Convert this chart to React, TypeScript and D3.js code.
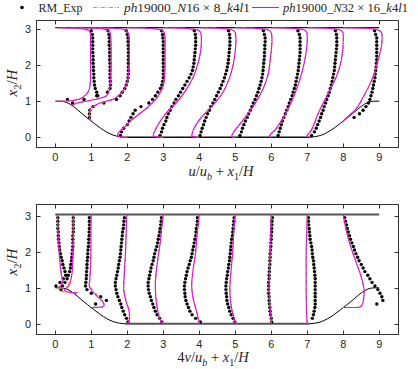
import { useEffect, useRef } from "react";
import * as d3 from "d3";

const _ = null;

// measuring stations x1/H
const stations = [0.05, 0.5, 1, 2, 3, 4, 5, 6, 7, 8];
const xTicks = [0, 1, 2, 3, 4, 5, 6, 7, 8, 9];
const yTicks = [0, 1, 2, 3];
const topWall = 3.036;

// hill contour (left hill, the right one is its mirror)
const hillX = [0, 0.16, 0.32, 0.5, 0.714, 0.893, 1.071, 1.25, 1.43, 1.607, 1.79, 1.93];
const hillY = [1, 0.998, 0.964, 0.857, 0.679, 0.532, 0.393, 0.258, 0.1425, 0.06, 0.015, 0];

// experiment levels x2/H
const expY = [0.05, 0.15, 0.25, 0.35, 0.45, 0.55, 0.65, 0.75, 0.85, 0.95, 1.05, 1.15, 1.25, 1.35, 1.45,
  1.55, 1.65, 1.75, 1.85, 1.95, 2.05, 2.15, 2.25, 2.35, 2.45, 2.55, 2.65, 2.75, 2.85, 2.95];

// u/ub, RM_Exp
const uExp = [
  [_, _, _, _, _, _, _, _, _, _, 0.29, 1.13, 1.1, 1.06, 1.04, 1.03, 1.02, 1.02, 1.01, 1.01, 1.0, 1.0, 1.0, 0.99, 0.99, 0.99, 0.99, 0.99, 0.98, 0.95],
  [_, _, _, _, _, _, _, _, _, -0.02, 0.3, 0.65, 0.95, 1.02, 1.03, 1.03, 1.02, 1.02, 1.02, 1.02, 1.02, 1.01, 1.01, 1.01, 1.01, 1.0, 1.0, 1.0, 0.99, 0.96],
  [_, _, _, _, _, -0.05, -0.05, -0.04, 0.05, 0.35, 0.7, 0.8, 0.86, 0.93, 0.97, 1.0, 1.02, 1.03, 1.03, 1.03, 1.03, 1.03, 1.03, 1.03, 1.03, 1.03, 1.02, 1.02, 1.0, 0.97],
  [-0.19, -0.16, -0.1, 0.0, 0.05, 0.1, 0.16, 0.22, 0.38, 0.6, 0.7, 0.78, 0.85, 0.92, 0.96, 0.98, 1.0, 1.0, 1.0, 1.0, 1.0, 1.0, 1.0, 1.0, 1.0, 1.0, 1.0, 0.99, 0.98, 0.95],
  [-0.09, -0.05, -0.02, 0.02, 0.07, 0.1, 0.14, 0.19, 0.24, 0.3, 0.35, 0.42, 0.48, 0.54, 0.6, 0.66, 0.72, 0.77, 0.81, 0.83, 0.85, 0.86, 0.87, 0.88, 0.89, 0.9, 0.9, 0.9, 0.89, 0.86],
  [0.02, 0.05, 0.08, 0.12, 0.15, 0.19, 0.23, 0.28, 0.32, 0.38, 0.43, 0.48, 0.53, 0.58, 0.62, 0.66, 0.7, 0.73, 0.76, 0.78, 0.8, 0.81, 0.82, 0.83, 0.84, 0.85, 0.85, 0.85, 0.84, 0.81],
  [0.13, 0.17, 0.2, 0.24, 0.28, 0.33, 0.37, 0.42, 0.46, 0.5, 0.55, 0.59, 0.63, 0.66, 0.69, 0.72, 0.74, 0.76, 0.77, 0.78, 0.79, 0.8, 0.81, 0.81, 0.82, 0.82, 0.83, 0.83, 0.81, 0.78],
  [0.19, 0.22, 0.25, 0.28, 0.31, 0.35, 0.39, 0.43, 0.47, 0.5, 0.54, 0.58, 0.61, 0.64, 0.67, 0.69, 0.71, 0.73, 0.75, 0.76, 0.77, 0.78, 0.79, 0.8, 0.8, 0.8, 0.8, 0.8, 0.78, 0.74],
  [0.12, 0.2, 0.25, 0.29, 0.33, 0.37, 0.4, 0.44, 0.47, 0.51, 0.54, 0.58, 0.61, 0.64, 0.67, 0.69, 0.71, 0.73, 0.75, 0.76, 0.77, 0.78, 0.79, 0.8, 0.81, 0.82, 0.82, 0.82, 0.81, 0.78],
  [_, _, _, _, _, 0.3, 0.45, 0.55, 0.63, 0.7, 0.74, 0.77, 0.8, 0.82, 0.84, 0.86, 0.88, 0.89, 0.9, 0.91, 0.92, 0.93, 0.93, 0.93, 0.93, 0.93, 0.93, 0.93, 0.9, 0.87],
];

// v/ub, RM_Exp
const vExp = [
  [_, _, _, _, _, _, _, _, _, _, -0.008, 0.02, 0.043, 0.06, 0.055, 0.048, 0.04, 0.035, 0.028, 0.023, 0.018, 0.015, 0.013, 0.01, 0.008, 0.008, 0.005, 0.005, 0.005, 0.005],
  [_, _, _, _, _, _, _, _, _, -0.085, -0.075, -0.058, -0.043, -0.035, -0.025, -0.02, -0.018, -0.013, -0.01, -0.008, -0.005, -0.003, -0.003, -0.003, -0.003, 0, 0, 0, 0, 0],
  [_, _, _, _, _, 0.03, 0.105, 0.065, 0, -0.03, -0.04, -0.038, -0.035, -0.033, -0.033, -0.03, -0.03, -0.028, -0.025, -0.025, -0.023, -0.02, -0.018, -0.018, -0.015, -0.015, -0.013, -0.013, -0.013, -0.013],
  [0.005, -0.005, -0.018, -0.028, -0.038, -0.045, -0.055, -0.065, -0.073, -0.078, -0.083, -0.083, -0.078, -0.073, -0.068, -0.063, -0.06, -0.055, -0.05, -0.048, -0.045, -0.043, -0.04, -0.038, -0.035, -0.033, -0.028, -0.025, -0.023, -0.02],
  [-0.01, -0.025, -0.043, -0.055, -0.065, -0.073, -0.083, -0.09, -0.098, -0.103, -0.105, -0.105, -0.1, -0.095, -0.09, -0.085, -0.078, -0.07, -0.065, -0.06, -0.053, -0.045, -0.04, -0.035, -0.03, -0.025, -0.023, -0.018, -0.015, -0.013],
  [0.008, -0.025, -0.05, -0.065, -0.075, -0.085, -0.093, -0.098, -0.1, -0.103, -0.103, -0.1, -0.095, -0.09, -0.085, -0.078, -0.07, -0.063, -0.055, -0.05, -0.045, -0.04, -0.035, -0.03, -0.025, -0.023, -0.02, -0.015, -0.013, -0.013],
  [-0.003, -0.015, -0.028, -0.038, -0.045, -0.053, -0.058, -0.06, -0.063, -0.065, -0.065, -0.063, -0.06, -0.055, -0.053, -0.048, -0.045, -0.04, -0.038, -0.035, -0.033, -0.03, -0.028, -0.025, -0.02, -0.018, -0.015, -0.013, -0.01, -0.008],
  [0.003, 0, -0.005, -0.008, -0.01, -0.013, -0.015, -0.015, -0.018, -0.018, -0.018, -0.018, -0.015, -0.015, -0.013, -0.013, -0.01, -0.01, -0.008, -0.008, -0.005, -0.003, -0.003, 0, 0, 0.003, 0.003, 0.005, 0.005, 0.008],
  [_, 0.035, 0.043, 0.048, 0.053, 0.055, 0.055, 0.055, 0.055, 0.055, 0.055, 0.055, 0.055, 0.053, 0.05, 0.048, 0.045, 0.043, 0.038, 0.035, 0.033, 0.03, 0.025, 0.02, 0.018, 0.015, 0.013, 0.01, 0.008, 0.008],
  [_, _, _, _, _, 0.233, 0.275, 0.268, 0.255, 0.24, 0.22, 0.2, 0.185, 0.17, 0.15, 0.138, 0.125, 0.11, 0.1, 0.088, 0.078, 0.07, 0.06, 0.05, 0.043, 0.035, 0.028, 0.023, 0.015, 0.01],
];

// simulation profiles, u/ub
const uLineY = [
  [1.0, 1.005, 1.05, 1.1, 1.15, 1.2, 1.28, 1.4, 1.7, 2.1, 2.5, 2.8, 2.89, 2.95, 2.99, 3.02, 3.036],
  [0.857, 0.88, 0.93, 0.98, 1.02, 1.06, 1.1, 1.15, 1.25, 1.4, 1.7, 2.1, 2.5, 2.8, 2.9, 2.96, 3.0, 3.02, 3.036],
  [0.45, 0.5, 0.6, 0.77, 0.86, 0.95, 1.05, 1.15, 1.23, 1.37, 1.55, 1.8, 2.2, 2.6, 2.8, 2.9, 2.96, 3.0, 3.02, 3.036],
  [0, 0.01, 0.04, 0.1, 0.21, 0.3, 0.44, 0.63, 0.81, 1.0, 1.09, 1.25, 1.37, 1.6, 2.0, 2.4, 2.7, 2.85, 2.93, 2.98, 3.01, 3.03, 3.036],
  [0, 0.01, 0.03, 0.1, 0.25, 0.5, 0.75, 1.0, 1.3, 1.6, 2.0, 2.4, 2.7, 2.85, 2.93, 2.98, 3.01, 3.03, 3.036],
  [0, 0.01, 0.03, 0.1, 0.3, 0.57, 0.9, 1.27, 1.68, 2.05, 2.5, 2.7, 2.85, 2.93, 2.98, 3.01, 3.03, 3.036],
  [0, 0.01, 0.03, 0.1, 0.48, 0.94, 1.36, 1.78, 2.24, 2.5, 2.7, 2.85, 2.93, 2.98, 3.01, 3.03, 3.036],
  [0, 0.01, 0.03, 0.2, 0.7, 1.22, 1.87, 2.3, 2.7, 2.85, 2.93, 2.98, 3.01, 3.03, 3.036],
  [0, 0.02, 0.15, 0.66, 1.22, 1.68, 2.15, 2.7, 2.85, 2.93, 2.98, 3.01, 3.03, 3.036],
  [0.45, 0.47, 0.55, 0.76, 1.13, 1.59, 2.15, 2.6, 2.82, 2.92, 2.97, 3.0, 3.02, 3.036],
];
const uN32 = [
  [0, 0.31, 0.6, 0.7, 0.76, 0.82, 0.87, 0.91, 0.93, 0.93, 0.93, 0.93, 0.92, 0.89, 0.8, 0.55, 0],
  [0, -0.02, 0.05, 0.25, 0.45, 0.65, 0.82, 0.92, 0.98, 1.02, 1.04, 1.05, 1.05, 1.04, 1.02, 0.96, 0.85, 0.6, 0],
  [0, -0.04, -0.05, -0.04, 0.06, 0.24, 0.6, 0.75, 0.84, 0.94, 1.0, 1.04, 1.06, 1.06, 1.05, 1.02, 0.96, 0.85, 0.6, 0],
  [0, -0.2, -0.27, -0.26, -0.16, -0.05, 0.07, 0.31, 0.54, 0.74, 0.82, 0.92, 0.98, 1.03, 1.05, 1.05, 1.05, 1.04, 1.01, 0.92, 0.7, 0.35, 0],
  [0, -0.2, -0.28, -0.27, -0.2, -0.05, 0.15, 0.4, 0.62, 0.8, 0.95, 1.04, 1.06, 1.05, 1.02, 0.93, 0.71, 0.35, 0],
  [0, -0.15, -0.21, -0.2, -0.12, 0.07, 0.39, 0.67, 0.85, 0.95, 1.01, 1.02, 1.01, 0.98, 0.9, 0.68, 0.34, 0],
  [0, -0.07, -0.1, -0.07, 0.22, 0.55, 0.78, 0.92, 0.98, 1.01, 1.02, 1.01, 0.98, 0.9, 0.68, 0.34, 0],
  [0, -0.04, -0.05, 0.1, 0.42, 0.66, 0.87, 0.96, 1.0, 1.0, 0.97, 0.89, 0.67, 0.33, 0],
  [0, -0.02, 0.08, 0.3, 0.58, 0.81, 0.95, 1.0, 1.0, 0.97, 0.89, 0.67, 0.33, 0],
  [0, 0.02, 0.1, 0.33, 0.56, 0.79, 0.97, 1.07, 1.08, 1.05, 0.97, 0.85, 0.6, 0],
];
const uN16 = [
  [0, 0.3, 0.62, 0.73, 0.79, 0.84, 0.88, 0.91, 0.93, 0.93, 0.93, 0.93, 0.92, 0.89, 0.8, 0.55, 0],
  [0, -0.01, 0.08, 0.3, 0.5, 0.68, 0.83, 0.92, 0.98, 1.02, 1.04, 1.05, 1.05, 1.04, 1.02, 0.96, 0.85, 0.6, 0],
  [0, -0.03, -0.04, -0.02, 0.09, 0.28, 0.6, 0.75, 0.84, 0.94, 1.0, 1.04, 1.06, 1.06, 1.05, 1.02, 0.96, 0.85, 0.6, 0],
  [0, -0.19, -0.26, -0.25, -0.15, -0.04, 0.09, 0.33, 0.55, 0.74, 0.82, 0.92, 0.98, 1.03, 1.05, 1.05, 1.05, 1.04, 1.01, 0.92, 0.7, 0.35, 0],
  [0, -0.19, -0.27, -0.26, -0.19, -0.04, 0.16, 0.41, 0.63, 0.8, 0.95, 1.04, 1.06, 1.05, 1.02, 0.93, 0.71, 0.35, 0],
  [0, -0.14, -0.2, -0.19, -0.11, 0.08, 0.4, 0.67, 0.85, 0.95, 1.01, 1.02, 1.01, 0.98, 0.9, 0.68, 0.34, 0],
  [0, -0.06, -0.09, -0.06, 0.23, 0.56, 0.78, 0.92, 0.98, 1.01, 1.02, 1.01, 0.98, 0.9, 0.68, 0.34, 0],
  [0, -0.03, -0.04, 0.11, 0.43, 0.66, 0.87, 0.96, 1.0, 1.0, 0.97, 0.89, 0.67, 0.33, 0],
  [0, -0.01, 0.09, 0.31, 0.58, 0.81, 0.95, 1.0, 1.0, 0.97, 0.89, 0.67, 0.33, 0],
  [0, 0.02, 0.11, 0.34, 0.57, 0.8, 0.97, 1.07, 1.08, 1.05, 0.97, 0.85, 0.6, 0],
];

// simulation profiles, v/ub
const vLineY = [
  [1.0, 1.02, 1.06, 1.12, 1.2, 1.3, 1.5, 1.8, 2.2, 2.6, 2.9, 3.036],
  [0.857, 0.858, 0.865, 0.9, 0.93, 1.0, 1.07, 1.2, 1.3, 1.58, 2.0, 2.3, 3.036],
  [0.45, 0.455, 0.47, 0.52, 0.61, 0.75, 0.94, 1.07, 1.26, 1.91, 2.5, 3.036],
  [0, 0.03, 0.15, 0.33, 0.61, 0.98, 1.44, 1.91, 2.5, 2.93, 3.036],
  [0, 0.03, 0.1, 0.25, 0.5, 0.8, 1.1, 1.4, 1.8, 2.3, 2.7, 3.036],
  [0, 0.06, 0.33, 0.7, 1.07, 1.5, 2.0, 2.37, 2.7, 3.036],
  [0, 0.06, 0.52, 0.98, 1.44, 2.0, 2.37, 2.7, 3.036],
  [0, 0.06, 0.52, 0.98, 1.44, 2.37, 2.8, 3.036],
  [0, 0.3, 1.0, 1.9, 2.6, 3.036],
  [0.45, 0.452, 0.46, 0.5, 0.61, 0.89, 1.26, 1.81, 2.3, 2.56, 2.85, 3.036],
];
const vN32 = [
  [0, 0.013, 0.025, 0.035, 0.038, 0.033, 0.025, 0.018, 0.01, 0.005, 0.003, 0],
  [0, 0.03, -0.013, -0.05, -0.063, -0.045, -0.028, -0.018, -0.013, -0.005, -0.003, 0, 0],
  [0, 0.033, 0.08, 0.09, 0.08, 0.045, 0, -0.015, -0.01, -0.003, -0.003, 0],
  [0, 0.008, 0.015, 0.013, -0.008, -0.025, -0.02, -0.013, -0.008, -0.005, 0],
  [0, -0.008, -0.02, -0.033, -0.045, -0.053, -0.055, -0.05, -0.038, -0.02, -0.01, 0],
  [0, -0.003, -0.018, -0.043, -0.053, -0.043, -0.025, -0.018, -0.01, 0],
  [0, -0.003, -0.03, -0.038, -0.03, -0.018, -0.013, -0.008, 0],
  [0, 0, -0.01, -0.015, -0.013, -0.005, -0.003, 0],
  [0, -0.005, -0.008, -0.008, -0.003, 0],
  [0, 0.063, 0.105, 0.125, 0.138, 0.145, 0.128, 0.08, 0.04, 0.023, 0.008, 0],
];
const vN16 = [
  [0, 0.02, 0.03, 0.037, 0.038, 0.033, 0.026, 0.018, 0.01, 0.005, 0.003, 0],
  [0, 0.025, -0.025, -0.08, -0.1, -0.075, -0.04, -0.023, -0.015, -0.005, -0.003, 0, 0],
  [0, 0.03, 0.075, 0.085, 0.078, 0.05, 0.008, -0.013, -0.01, -0.003, -0.003, 0],
  [0, 0.008, 0.018, 0.016, -0.005, -0.024, -0.02, -0.013, -0.008, -0.005, 0],
  [0, -0.008, -0.02, -0.032, -0.043, -0.052, -0.055, -0.05, -0.038, -0.02, -0.01, 0],
  [0, -0.003, -0.016, -0.04, -0.052, -0.043, -0.025, -0.018, -0.01, 0],
  [0, -0.003, -0.028, -0.037, -0.03, -0.018, -0.013, -0.008, 0],
  [0, 0, -0.009, -0.014, -0.012, -0.005, -0.003, 0],
  [0, -0.004, -0.007, -0.007, -0.003, 0],
  [0, 0.07, 0.115, 0.13, 0.14, 0.145, 0.127, 0.08, 0.04, 0.023, 0.008, 0],
];

const MAGENTA = "#e010e0";
const ORANGE = "#f28a1e";
const serif = "'Liberation Serif', 'DejaVu Serif', serif";
const sans = "'Liberation Sans', Arial, sans-serif";

// [text, italic, subscript]
type Seg = [string, boolean, boolean?];

function mathText(sel: any, segs: Seg[], size: number) {
  let sub = false;
  segs.forEach(([t, it, s]) => {
    const ts = sel.append("tspan").text(t)
      .attr("font-style", it ? "italic" : "normal")
      .attr("font-size", s ? size * 0.7 : size);
    if (s && !sub) ts.attr("dy", size * 0.25);
    if (!s && sub) ts.attr("dy", -size * 0.25);
    sub = !!s;
  });
}

function App() {
  const ref = useRef<SVGSVGElement>(null);

  useEffect(() => {
    const svg = d3.select(ref.current);
    svg.selectAll("*").remove();

    const x = d3.scaleLinear([-0.536, 9.54], [36, 398.7]);

    const panels = [
      { y: d3.scaleLinear([-0.27, 3.25], [147, 20]), top: 20, bottom: 147, exp: uExp, lineY: uLineY, n32: uN32, n16: uN16, k: 1,
        wallColor: "#111", wallWidth: 1.3,
        xLabel: [["u", true], ["/", false], ["u", true], ["b", true, true], [" + ", false], ["x", true], ["1", false, true], ["/", false], ["H", true]] as Seg[],
        xLabelY: 176, xLabelX: 221, yLabelY: 83 },
      { y: d3.scaleLinear([-0.285, 3.33], [334, 204]), top: 204, bottom: 334, exp: vExp, lineY: vLineY, n32: vN32, n16: vN16, k: 4,
        wallColor: "#555", wallWidth: 2,
        xLabel: [["4", false], ["v", true], ["/", false], ["u", true], ["b", true, true], [" + ", false], ["x", true], ["1", false, true], ["/", false], ["H", true]] as Seg[],
        xLabelY: 362, xLabelX: 213, yLabelY: 262 },
    ];

    panels.forEach((p) => {
      const y = p.y;
      const g = svg.append("g");

      // walls
      const hill: [number, number][] = hillX.map((hx, i) => [hx, hillY[i]]);
      const hillR: [number, number][] = hillX.map((hx, i) => [9 - hx, hillY[i]] as [number, number]).reverse();
      const hillLine = d3.line<[number, number]>().x((d) => x(d[0])).y((d) => y(d[1])).curve(d3.curveMonotoneX);
      g.append("path").attr("d", hillLine(hill)).attr("fill", "none").attr("stroke", "#000").attr("stroke-width", 1);
      g.append("path").attr("d", hillLine(hillR)).attr("fill", "none").attr("stroke", "#000").attr("stroke-width", 1);
      g.append("line").attr("x1", x(hillX[hillX.length - 1])).attr("x2", x(9 - hillX[hillX.length - 1]))
        .attr("y1", y(0)).attr("y2", y(0)).attr("stroke", p.wallColor).attr("stroke-width", p.wallWidth);
      g.append("line").attr("x1", x(0)).attr("x2", x(9)).attr("y1", y(topWall)).attr("y2", y(topWall))
        .attr("stroke", p.wallColor).attr("stroke-width", p.wallWidth);

      // experiment dots
      stations.forEach((st, i) => {
        const pts = expY.map((yy, j) => [yy, p.exp[i][j]]).filter((d) => d[1] !== null) as [number, number][];
        g.append("g").selectAll("circle").data(pts).join("circle")
          .attr("cx", (d) => x(st + p.k * d[1]))
          .attr("cy", (d) => y(d[0]))
          .attr("r", 1.7)
          .attr("fill", "#000");
      });

      // simulation lines
      const drawSim = (vals: number[][], color: string, width: number, dash: string | null) => {
        stations.forEach((st, i) => {
          const pts: [number, number][] = p.lineY[i].map((yy, j) => [yy, vals[i][j]]);
          const line = d3.line<[number, number]>()
            .x((d) => x(st + p.k * d[1]))
            .y((d) => y(d[0]))
            .curve(d3.curveMonotoneY);
          g.append("path").attr("d", line(pts)).attr("fill", "none")
            .attr("stroke", color).attr("stroke-width", width)
            .attr("stroke-dasharray", dash);
        });
      };
      drawSim(p.n16, ORANGE, 1.1, "4,1.5,1,1.5");
      drawSim(p.n32, MAGENTA, 1.1, null);

      // box and ticks
      const ax = svg.append("g").attr("stroke", "#333").attr("stroke-width", 1);
      ax.append("rect").attr("x", 36.5).attr("y", p.top + 0.5).attr("width", 362).attr("height", p.bottom - p.top)
        .attr("fill", "none");
      xTicks.forEach((t) => {
        const xx = Math.round(x(t)) + 0.5;
        ax.append("line").attr("x1", xx).attr("x2", xx).attr("y1", p.bottom + 0.5).attr("y2", p.bottom - 3.5);
        ax.append("line").attr("x1", xx).attr("x2", xx).attr("y1", p.top + 0.5).attr("y2", p.top + 4.5);
      });
      yTicks.forEach((t) => {
        const yy = Math.round(y(t)) + 0.5;
        ax.append("line").attr("x1", 36.5).attr("x2", 40.5).attr("y1", yy).attr("y2", yy);
        ax.append("line").attr("x1", 398.5).attr("x2", 394.5).attr("y1", yy).attr("y2", yy);
      });

      const lab = svg.append("g").attr("font-family", sans).attr("font-size", 11).attr("fill", "#262626");
      xTicks.forEach((t) => {
        lab.append("text").attr("x", x(t)).attr("y", p.bottom + 14).attr("text-anchor", "middle").text(t);
      });
      yTicks.forEach((t) => {
        lab.append("text").attr("x", 31).attr("y", y(t) + 4).attr("text-anchor", "end").text(t);
      });

      // axis titles
      const xt = svg.append("text").attr("x", p.xLabelX).attr("y", p.xLabelY).attr("text-anchor", "middle")
        .attr("font-family", serif).attr("fill", "#262626");
      mathText(xt, p.xLabel, 14.5);
      const yt = svg.append("text").attr("transform", `translate(17,${p.yLabelY}) rotate(-90)`)
        .attr("text-anchor", "middle").attr("font-family", serif).attr("fill", "#262626");
      mathText(yt, [["x", true], ["2", false, true], ["/", false], ["H", true]], 15);
    });

    // legend
    const leg = svg.append("g").attr("font-family", serif).attr("fill", "#262626");
    leg.append("circle").attr("cx", 22).attr("cy", 7.5).attr("r", 1.8).attr("fill", "#000");
    leg.append("text").attr("x", 38.5).attr("y", 11.5).attr("font-size", 12).text("RM_Exp");
    leg.append("line").attr("x1", 93).attr("x2", 119).attr("y1", 7.5).attr("y2", 7.5)
      .attr("stroke", ORANGE).attr("stroke-width", 1.1).attr("stroke-dasharray", "4,1.5,1,1.5");
    const t16 = leg.append("text").attr("x", 124).attr("y", 11.5)
      .attr("textLength", 126).attr("lengthAdjust", "spacingAndGlyphs");
    mathText(t16, [["ph", true], ["19000", false], ["_", false], ["N", true], ["16 × 8", false], ["_", false], ["k", true], ["4", false], ["l", true], ["1", false]], 12);
    leg.append("line").attr("x1", 252).attr("x2", 279).attr("y1", 7.5).attr("y2", 7.5)
      .attr("stroke", MAGENTA).attr("stroke-width", 1.1);
    const t32 = leg.append("text").attr("x", 283).attr("y", 11.5)
      .attr("textLength", 125).attr("lengthAdjust", "spacingAndGlyphs");
    mathText(t32, [["ph", true], ["19000", false], ["_", false], ["N", true], ["32 × 16", false], ["_", false], ["k", true], ["4", false], ["l", true], ["1", false]], 12);
  }, []);

  return (
    <svg ref={ref} width={418} height={369}
      style={{ position: "absolute", left: 0, top: 0, background: "#fff" }} />
  );
}

export default App;
